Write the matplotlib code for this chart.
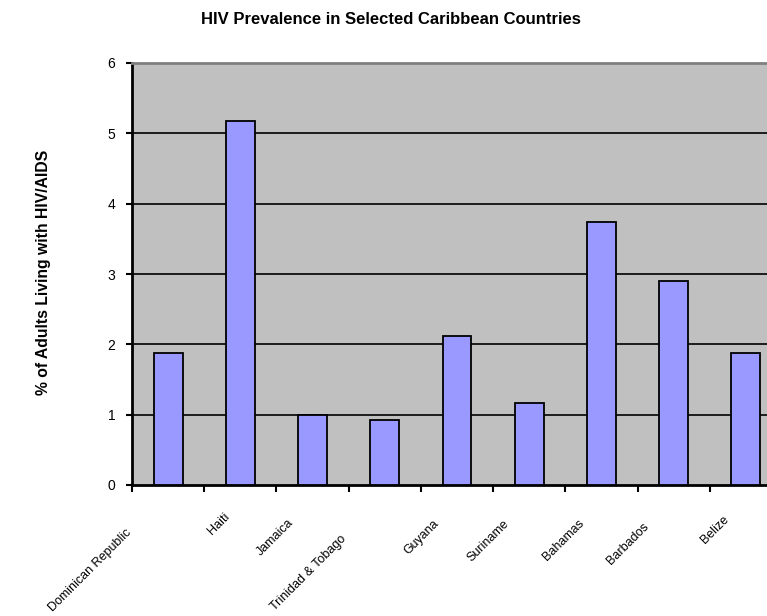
import matplotlib
matplotlib.use('Agg')
import matplotlib.pyplot as plt
import matplotlib.transforms as mtransforms

countries = ['Dominican Republic', 'Haiti', 'Jamaica', 'Trinidad & Tobago', 'Guyana',
             'Suriname', 'Bahamas', 'Barbados', 'Belize']
prevalence = [1.87, 5.17, 0.99, 0.93, 2.12, 1.16, 3.74, 2.90, 1.87]

# where each (oddly placed) category label ends, px relative to its tick
label_dx = [-7, 19, 11, -9, 12, 10, 13, 5, 13]
label_dy = [-42, -26, -32, -48, -33, -33, -32, -36, -29]

plt.rcParams['font.family'] = ['Liberation Sans', 'DejaVu Sans']

fig = plt.figure(figsize=(7.67, 6.16), dpi=100)
ax = fig.add_axes([132 / 767, 1 - 485 / 616, 650 / 767, 422 / 616])
ax.set_facecolor('#C0C0C0')

x = range(len(countries))
ax.bar(x, prevalence, width=0.4, color='#9999FF', edgecolor='black', linewidth=1.3, zorder=3)

ax.set_xlim(-0.5, len(countries) - 0.5)
ax.set_ylim(0, 6)
ax.set_yticks(range(7))
ax.set_yticklabels([str(v) for v in range(7)], fontsize=10)
ax.set_xticks([i - 0.5 for i in range(len(countries) + 1)])
ax.set_xticklabels([])
ax.tick_params(axis='y', direction='out', length=4, width=1.5, pad=8)
ax.tick_params(axis='x', direction='out', length=5, width=1.5)

for v in range(1, 6):
    ax.axhline(v, color='black', linewidth=1.2, zorder=1)

ax.spines['left'].set_linewidth(2)
ax.spines['bottom'].set_linewidth(2)
ax.spines['top'].set_color('#808080')
ax.spines['top'].set_linewidth(2)
ax.spines['right'].set_visible(False)

trans = mtransforms.blended_transform_factory(ax.transData, ax.transAxes)
for i, name in enumerate(countries):
    ax.annotate(name, xy=(i - 0.5, 0), xycoords=trans,
                xytext=(label_dx[i] * 0.72, label_dy[i] * 0.72), textcoords='offset points',
                rotation=45, rotation_mode='anchor', ha='right', va='top',
                fontsize=9, annotation_clip=False)

fig.text(391 / 767, 1 - 20 / 616, 'HIV Prevalence in Selected Caribbean Countries',
         ha='center', va='center', fontsize=12, fontweight='bold')
fig.text(44 / 767, 1 - 272 / 616, '% of Adults Living with HIV/AIDS',
         ha='center', va='center', rotation=90, fontsize=11.3, fontweight='bold')

fig.savefig('out.png', dpi=100)
